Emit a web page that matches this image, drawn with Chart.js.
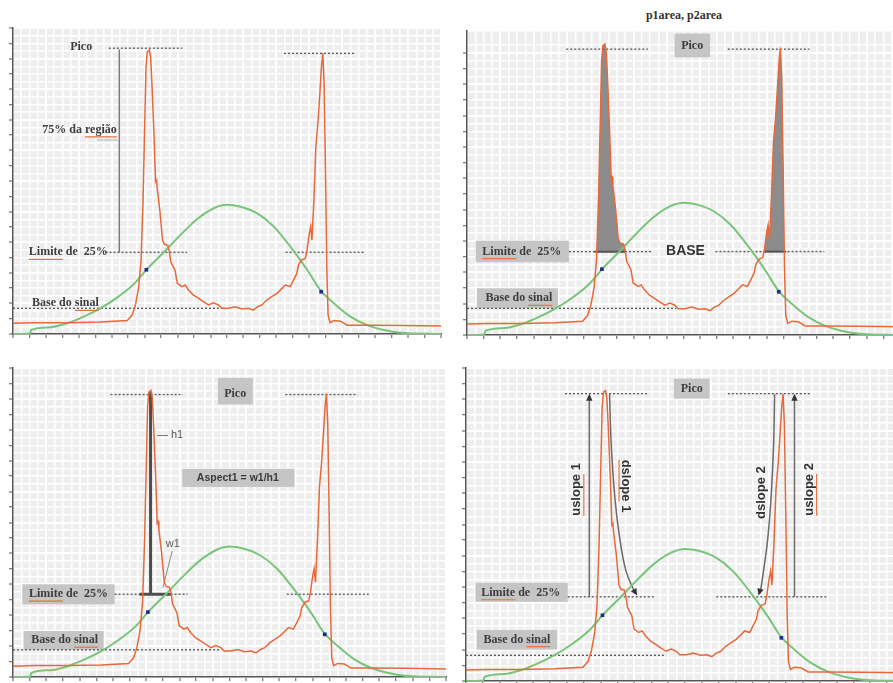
<!DOCTYPE html>
<html><head><meta charset="utf-8">
<script src="https://cdn.jsdelivr.net/npm/chart.js@4"></script>
<style>
html,body{margin:0;padding:0;width:893px;height:683px;overflow:hidden;background:#fff;}
canvas{position:absolute;}
#title{position:absolute;left:584px;top:8px;width:200px;text-align:center;font:bold 12px "Liberation Serif","DejaVu Serif",serif;color:#333;white-space:nowrap;}
</style></head><body>
<div id="title">p1area, p2area</div>
<canvas id="c1"></canvas><canvas id="c2"></canvas><canvas id="c3"></canvas><canvas id="c4"></canvas>
<script>
// ---- signal (orange) ----
const sigX = [0,0.63,1.64,2.65,3.47,3.62,3.72,3.82,3.89,3.95,4.00,4.04,4.08,4.14,4.18,4.22,4.28,4.33,4.36,4.38,4.46,4.54,4.60,4.70,4.75,4.79,4.92,4.99,5.13,5.23,5.33,5.48,5.63,5.78,5.94,6.09,6.24,6.34,6.54,6.75,6.95,7.15,7.30,7.43,7.56,7.71,7.86,8.02,8.17,8.27,8.42,8.52,8.62,8.67,8.77,8.88,8.93,9.00,9.04,9.08,9.14,9.20,9.26,9.32,9.37,9.41,9.45,9.49,9.53,9.57,9.63,9.75,9.95,10.15,10.76,11.77,13.0];
const sigY = [0.35,0.37,0.37,0.39,0.44,0.62,0.95,1.55,2.42,4.38,6.78,8.74,9.23,9.28,9.06,8.19,6.56,4.98,5.03,4.76,4.05,3.07,2.93,2.90,2.69,2.36,2.09,1.66,1.55,1.60,1.44,1.27,1.17,1.06,0.95,1.02,0.95,0.84,0.84,0.89,0.82,0.84,0.78,0.89,0.95,1.11,1.22,1.33,1.49,1.60,1.55,1.76,1.98,2.25,2.42,2.47,2.74,3.29,3.51,3.07,4.38,6.12,6.88,7.86,8.74,9.17,8.19,5.47,2.20,0.62,0.37,0.44,0.42,0.29,0.29,0.28,0.26];
// ---- gaussian (green) ----
const gaussX = [0,0.51,0.55,1.13,1.64,2.15,2.65,3.16,3.67,4.07,4.58,5.09,5.59,6.10,6.50,6.91,7.42,7.92,8.43,8.94,9.36,9.75,10.25,10.76,11.27,11.77,13];
const gaussY = [0,0.02,0.13,0.22,0.35,0.57,0.84,1.19,1.63,2.12,2.67,3.24,3.75,4.11,4.22,4.16,3.94,3.51,2.85,2.09,1.40,1.00,0.57,0.29,0.13,0.04,0];
// ---- marked points (blue) ----
const dotX = [4.05, 9.36];
const dotY = [2.10, 1.38];

// ---- levels per panel: [pico, limite 25%, base do sinal] ----
const levels1 = [9.34, 2.67, 0.84];
const levels2 = [9.12, 2.66, 0.85];
const levels3 = [9.14, 2.68, 0.88];
const levels4 = [9.18, 2.69, 0.82];

const SERIF = 'bold 12px "Liberation Serif","DejaVu Serif",serif';
const SANS = (s)=>'bold '+s+'px "Liberation Sans",Arial,sans-serif';
const DASH = '#555';
const BOXC = '#c5c5c5';

function pts(xs, ys){ return xs.map((x,i)=>({x:x, y:ys[i]})); }
function seg(x0,x1,y){ return [{x:x0,y:y},{x:x1,y:y}]; }
function vseg(x,y0,y1){ return [{x:x,y:y0},{x:x,y:y1}]; }
function areaPts(x0,x1,lim){
  const out=[{x:x0,y:lim}];
  sigX.forEach((x,i)=>{ if(x>x0 && x<x1) out.push({x:x,y:Math.max(sigY[i],lim)}); });
  out.push({x:x1,y:lim});
  return out;
}
function dashed(x0,x1,y){ return {pts:seg(x0,x1,y), color:DASH, w:1.3, dash:[2,2]}; }

const panels = [
 { id:'c1', L:13, T:28, R:441, B:334, xMax:13, yMax:10,
   lines:[ dashed(2.91,5.14,levels1[0]), dashed(8.23,10.41,9.17), dashed(2.81,5.29,levels1[1]), dashed(8.28,10.71,levels1[1]), dashed(0,6.40,levels1[2]),
     {pts:vseg(3.23,levels1[1],9.30), color:'#7a7a7a', w:1.5},
     {pts:seg(2.55,3.18,6.34), color:'#b0b0b0', w:1} ],
   boxes:[], fills:[], heads:[],
   texts:[ {x:2.07,y:9.37,t:'Pico',f:SERIF},
     {x:2.02,y:6.67,t:'75% da região',f:SERIF,ul:['região']},
     {x:0.48,y:levels1[1],t:'Limite de  25%',f:SERIF,a:'left',ul:['Limite']},
     {x:0.58,y:1.0,t:'Base do sinal',f:SERIF,a:'left',ul:['sinal']} ] },
 { id:'c2', L:467, T:31, R:900, B:335, xMax:13, yMax:9.7,
   boxes:[ [6.23,7.30,8.86,9.62], [0.26,3.06,2.32,3.01], [0.30,2.73,0.85,1.49] ],
   fills:[ [3.83,4.78], [8.93,9.58] ],
   lines:[ dashed(2.98,5.43,levels2[0]), dashed(7.83,10.28,levels2[0]), dashed(3.06,5.58,levels2[1]), dashed(7.46,10.73,levels2[1]), dashed(0,6.28,levels2[2]),
     {pts:seg(3.83,4.78,levels2[1]), color:'#555', w:2}, {pts:seg(8.93,9.58,levels2[1]), color:'#555', w:2} ],
   heads:[],
   texts:[ {x:6.76,y:9.22,t:'Pico',f:SERIF},
     {x:0.46,y:levels2[1],t:'Limite de  25%',f:SERIF,a:'left',ul:['Limite']},
     {x:6.56,y:levels2[1],t:'BASE',f:SANS(14),c:'#333'},
     {x:1.56,y:1.17,t:'Base do sinal',f:SERIF,ul:['sinal']} ] },
 { id:'c3', L:13, T:368, R:446, B:677, xMax:13, yMax:10,
   boxes:[ [6.15,7.20,8.82,9.68], [5.08,8.45,6.15,6.74], [0.28,3.05,2.35,3.00], [0.32,2.72,0.88,1.49] ],
   fills:[],
   lines:[ dashed(2.93,5.10,levels3[0]), dashed(8.18,10.35,levels3[0]), dashed(3.05,5.25,levels3[1]), dashed(8.22,10.68,levels3[1]), dashed(0,6.25,levels3[2]),
     {pts:vseg(4.13,levels3[1],9.22), color:'#4d4d4d', w:3}, {pts:seg(3.80,4.75,levels3[1]), color:'#4d4d4d', w:3},
     {pts:[{x:4.78,y:4.08},{x:4.50,y:2.89}], color:'#8a8a8a', w:1} ],
   heads:[],
   texts:[ {x:6.67,y:9.16,t:'Pico',f:SERIF},
     {x:6.75,y:6.44,t:'Aspect1 = w1/h1',f:SANS(10.5),c:'#3a3a3a'},
     {x:4.32,y:7.84,t:'— h1',f:'11px "Liberation Sans",Arial,sans-serif',a:'left',c:'#555'},
     {x:4.80,y:4.29,t:'w1',f:'11px "Liberation Sans",Arial,sans-serif',c:'#555'},
     {x:0.48,y:levels3[1],t:'Limite de  25%',f:SERIF,a:'left',ul:['Limite']},
     {x:1.55,y:1.19,t:'Base do sinal',f:SERIF,ul:['sinal']} ] },
 { id:'c4', L:466, T:368, R:904, B:681, xMax:13, yMax:10,
   boxes:[ [6.17,7.23,9.02,9.66], [0.28,3.02,2.53,3.14], [0.32,2.70,1.0,1.63] ],
   fills:[],
   lines:[ dashed(2.94,5.40,levels4[0]), dashed(7.77,10.23,levels4[0]), dashed(3.02,5.59,levels4[1]), dashed(7.43,10.71,levels4[1]), dashed(0,5.94,levels4[2]),
     {pts:vseg(3.66,levels4[1],9.10), color:'#6a6a6a', w:1.5},
     {pts:vseg(9.75,levels4[1],9.10), color:'#6a6a6a', w:1.5},
     {pts:[{x:4.26,y:9.16},{x:4.31,y:7.56},{x:4.41,y:5.96},{x:4.56,y:4.58},{x:4.75,y:3.51},{x:5.02,y:2.80}], color:'#6a6a6a', w:1.5, tension:0.4},
     {pts:[{x:9.16,y:9.16},{x:9.13,y:7.56},{x:9.06,y:5.96},{x:8.96,y:4.58},{x:8.83,y:3.51},{x:8.73,y:2.80}], color:'#6a6a6a', w:1.5, tension:0.4} ],
   heads:[ [3.66,9.18,3.66,8.5], [9.75,9.18,9.75,8.5], [5.08,2.73,4.85,3.15], [8.68,2.73,8.80,3.15] ],
   texts:[ {x:6.70,y:9.34,t:'Pico',f:SERIF},
     {x:3.29,y:6.12,t:'uslope 1',f:SANS(13),c:'#333',r:-90,ul:['uslope']},
     {x:4.75,y:6.23,t:'dslope 1',f:SANS(13),c:'#333',r:90,ul:['dslope']},
     {x:8.76,y:6.02,t:'dslope 2',f:SANS(13),c:'#333',r:-90},
     {x:10.20,y:6.12,t:'uslope 2',f:SANS(13),c:'#333',r:-90,ul:['uslope']},
     {x:0.45,y:2.82,t:'Limite de  25%',f:SERIF,a:'left',ul:['Limite']},
     {x:1.51,y:1.32,t:'Base do sinal',f:SERIF,ul:['sinal']} ] }
];

const PAD=4, TL=4;
function isMul(v,s){ const r=v/s; return Math.abs(r-Math.round(r))<1e-6; }

function annotPlugin(p){
  return {
    id:'annot_'+p.id,
    beforeDraw(chart){
      const {ctx, chartArea:a}=chart;
      ctx.save(); ctx.fillStyle='#eeeeee'; ctx.fillRect(a.left,a.top,a.right-a.left,a.bottom-a.top); ctx.restore();
    },
    beforeDatasetsDraw(chart){
      const {ctx}=chart, X=chart.scales.x, Y=chart.scales.y;
      ctx.save(); ctx.fillStyle=BOXC;
      p.boxes.forEach(b=>{
        const x0=X.getPixelForValue(b[0]), x1=X.getPixelForValue(b[1]);
        const y0=Y.getPixelForValue(b[3]), y1=Y.getPixelForValue(b[2]);
        ctx.fillRect(x0,y0,x1-x0,y1-y0);
      });
      ctx.restore();
    },
    afterDatasetsDraw(chart){
      const {ctx}=chart, X=chart.scales.x, Y=chart.scales.y;
      p.heads.forEach(h=>{
        const tx=X.getPixelForValue(h[0]), ty=Y.getPixelForValue(h[1]);
        const fx=X.getPixelForValue(h[2]), fy=Y.getPixelForValue(h[3]);
        const ang=Math.atan2(ty-fy,tx-fx);
        ctx.save(); ctx.translate(tx,ty); ctx.rotate(ang);
        ctx.fillStyle='#333'; ctx.beginPath(); ctx.moveTo(0,0); ctx.lineTo(-7,-3.2); ctx.lineTo(-7,3.2); ctx.closePath(); ctx.fill();
        ctx.restore();
      });
      p.texts.forEach(t=>{
        const x=X.getPixelForValue(t.x), y=Y.getPixelForValue(t.y);
        ctx.save(); ctx.translate(x,y); if(t.r) ctx.rotate(t.r*Math.PI/180);
        ctx.font=t.f; ctx.fillStyle=t.c||'#3d3d3d';
        const align=t.a||'center'; ctx.textAlign=align; ctx.textBaseline='middle';
        ctx.fillText(t.t,0,0);
        if(t.ul){
          const full=ctx.measureText(t.t).width;
          const start=align==='center'?-full/2:(align==='right'?-full:0);
          ctx.strokeStyle='#e2743f'; ctx.lineWidth=1.2;
          t.ul.forEach(w=>{
            const i=t.t.indexOf(w);
            const pre=ctx.measureText(t.t.slice(0,i)).width, ww=ctx.measureText(w).width;
            ctx.beginPath(); ctx.moveTo(start+pre,7); ctx.lineTo(start+pre+ww,7); ctx.stroke();
          });
        }
        ctx.restore();
      });
    }
  };
}

function axis(max, isX){
  return {
    type:'linear', min:0, max:max,
    ticks:{display:false, stepSize:0.25},
    grid:{ color:'#ffffff', lineWidth:(c)=> (c.tick && isMul(c.tick.value,1)) ? 2 : 1.5,
      drawTicks:true, tickLength:TL, tickWidth:1,
      tickColor:(c)=> (c.tick && isMul(c.tick.value,0.5)) ? '#555' : 'rgba(0,0,0,0)' },
    border:{display:true, color:'#555', width:1.5},
    afterFit:(s)=>{ if(isX) s.height=TL; else s.width=TL; }
  };
}

function build(p){
  const cv=document.getElementById(p.id);
  const w=TL+(p.R-p.L)+PAD, h=PAD+(p.B-p.T)+TL;
  cv.width=w; cv.height=h;
  cv.style.left=(p.L-TL)+'px'; cv.style.top=(p.T-PAD)+'px';
  cv.style.width=w+'px'; cv.style.height=h+'px';
  const ds=[];
  ds.push({data:pts(dotX,dotY), showLine:false, pointRadius:2.6, pointStyle:'rect', pointBackgroundColor:'#1d2b8a', pointBorderWidth:0, order:0});
  ds.push({data:pts(sigX,sigY), borderColor:'#e8683a', borderWidth:1.5, pointRadius:0, fill:false, order:1});
  ds.push({data:pts(gaussX,gaussY), borderColor:'#79c47a', borderWidth:2, pointRadius:0, fill:false, cubicInterpolationMode:'monotone', order:2});
  p.lines.forEach(l=>ds.push({data:l.pts, borderColor:l.color, borderWidth:l.w, borderDash:l.dash||[], pointRadius:0, fill:false, tension:l.tension||0, order:3}));
  p.fills.forEach(f=>ds.push({data:areaPts(f[0],f[1],levels2[1]), fill:{value:levels2[1]}, backgroundColor:'#8c8c8c', borderWidth:0, pointRadius:0, order:4}));
  new Chart(cv,{
    type:'line',
    data:{datasets:ds},
    options:{
      responsive:false, animation:false, events:[], devicePixelRatio:1,
      layout:{padding:{top:PAD,right:PAD,left:0,bottom:0}},
      plugins:{legend:{display:false}, tooltip:{enabled:false}},
      scales:{ x:axis(p.xMax,true), y:axis(p.yMax,false) }
    },
    plugins:[annotPlugin(p)]
  });
}
panels.forEach(build);
</script>
</body></html>
